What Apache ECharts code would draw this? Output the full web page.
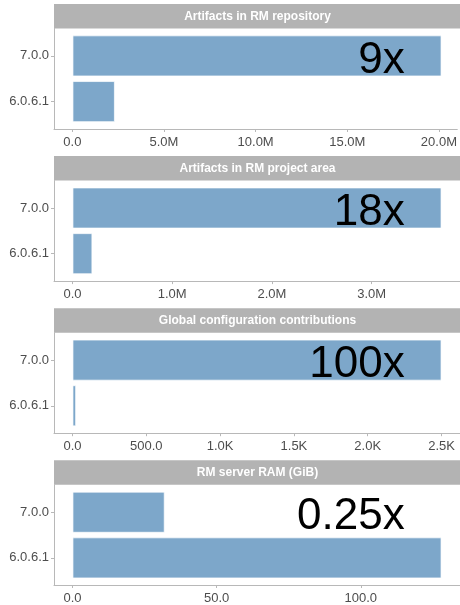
<!DOCTYPE html>
<html>
<head>
<meta charset="utf-8">
<script src="https://cdn.jsdelivr.net/npm/echarts@6/dist/echarts.min.js"></script>
<style>
html,body{margin:0;padding:0;background:#fff;}
#chart{width:460px;height:605px;}
</style>
</head>
<body>
<div id="chart"></div>
<script>
// ---- data ----
const categories = ['6.0.6.1', '7.0.0'];
const panelTitles = [
  'Artifacts in RM repository',
  'Artifacts in RM project area',
  'Global configuration contributions',
  'RM server RAM (GiB)'
];
const values700 = [20000000, 3700000, 2500, 32];
const values6061 = [2300000, 200000, 25, 128];
const ratioLabels = ['9x', '18x', '100x', '0.25x'];
const ticks1 = [0, 5000000, 10000000, 15000000, 20000000];
const ticks2 = [0, 1000000, 2000000, 3000000];
const ticks3 = [0, 500, 1000, 1500, 2000, 2500];
const ticks4 = [0, 50, 100];
const tickSets = [ticks1, ticks2, ticks3, ticks4];

// ---- style / layout ----
const FONT = '"Liberation Sans", Arial, Helvetica, sans-serif';
const BAR = '#7DA7CA';
const STRIP = '#B3B3B3';
const AXIS = '#B8B8B8';
const TEXT = '#4D4D4D';
const LEFT = 54, RIGHT = -1;
const FIRST_TOP = 4, STEP = 152.1, STRIP_H = 24.5, PLOT_H = 100.5;
const INSET = PLOT_H * 0.1 / 2.2;

function fmt(v) {
  const a = Math.abs(v);
  if (a >= 1e6) return (v / 1e6).toFixed(1) + 'M';
  if (a >= 1e3) return (v / 1e3).toFixed(1) + 'K';
  return v.toFixed(1);
}

const grid = [], xAxis = [], yAxis = [], series = [], graphic = [];
for (let i = 0; i < 4; i++) {
  const top = FIRST_TOP + STEP * i;
  const pTop = top + STRIP_H;
  const maxV = Math.max(values700[i], values6061[i]);
  const lo = -0.05 * maxV, hi = 1.05 * maxV;
  // full panel grid (axis lines, x labels)
  grid.push({left: LEFT, right: RIGHT, top: pTop, height: PLOT_H});
  // inset grid (bars, category labels)
  grid.push({left: LEFT, right: RIGHT, top: pTop + INSET, height: PLOT_H - 2 * INSET});
  xAxis.push({
    type: 'value', gridIndex: 2 * i, min: lo, max: hi,
    splitLine: {show: false},
    axisLine: {show: true, onZero: false, lineStyle: {color: AXIS, width: 1}},
    axisTick: {show: true, length: 3, lineStyle: {color: AXIS}, customValues: tickSets[i]},
    axisLabel: {show: true, customValues: tickSets[i], formatter: fmt, color: TEXT,
                fontFamily: FONT, fontSize: 13, margin: 7}
  });
  xAxis.push({type: 'value', gridIndex: 2 * i + 1, min: lo, max: hi, show: false});
  yAxis.push({
    type: 'value', gridIndex: 2 * i, min: 0, max: 1,
    splitLine: {show: false},
    axisLine: {show: true, onZero: false, lineStyle: {color: AXIS, width: 1}},
    axisTick: {show: false}, axisLabel: {show: false}
  });
  yAxis.push({
    type: 'category', gridIndex: 2 * i + 1, data: categories,
    axisLine: {show: false, onZero: false},
    axisTick: {show: true, length: 3, alignWithLabel: true, lineStyle: {color: AXIS}},
    axisLabel: {color: TEXT, fontFamily: FONT, fontSize: 13, margin: 5}
  });
  series.push({
    type: 'bar', xAxisIndex: 2 * i + 1, yAxisIndex: 2 * i + 1,
    data: [values6061[i], values700[i]],
    barCategoryGap: '10%',
    itemStyle: {color: BAR, borderColor: 'rgba(255,255,255,0.7)', borderWidth: 1},
    silent: true
  });
  series.push({
    type: 'scatter', xAxisIndex: 2 * i + 1, yAxisIndex: 2 * i + 1,
    symbolSize: 0, silent: true,
    itemStyle: {opacity: 1},
    data: [[0.9 * maxV, categories[1]]],
    label: {show: true, position: 'left', distance: 0, offset: [0, 5], formatter: ratioLabels[i],
            color: '#000', fontFamily: FONT, fontSize: 44}
  });
  graphic.push({
    type: 'rect', left: LEFT, top: top,
    shape: {width: 460 - LEFT + 1, height: STRIP_H},
    style: {fill: STRIP}, silent: true
  });
  graphic.push({
    type: 'text', x: (LEFT + 461) / 2, y: top + STRIP_H / 2,
    style: {text: panelTitles[i], fill: '#fff', font: 'bold 12px ' + FONT,
            textAlign: 'center', textVerticalAlign: 'middle'},
    silent: true
  });
}

const chart = echarts.init(document.getElementById('chart'), null, {renderer: 'canvas'});
chart.setOption({animation: false, grid, xAxis, yAxis, series, graphic});
</script>
</body>
</html>
